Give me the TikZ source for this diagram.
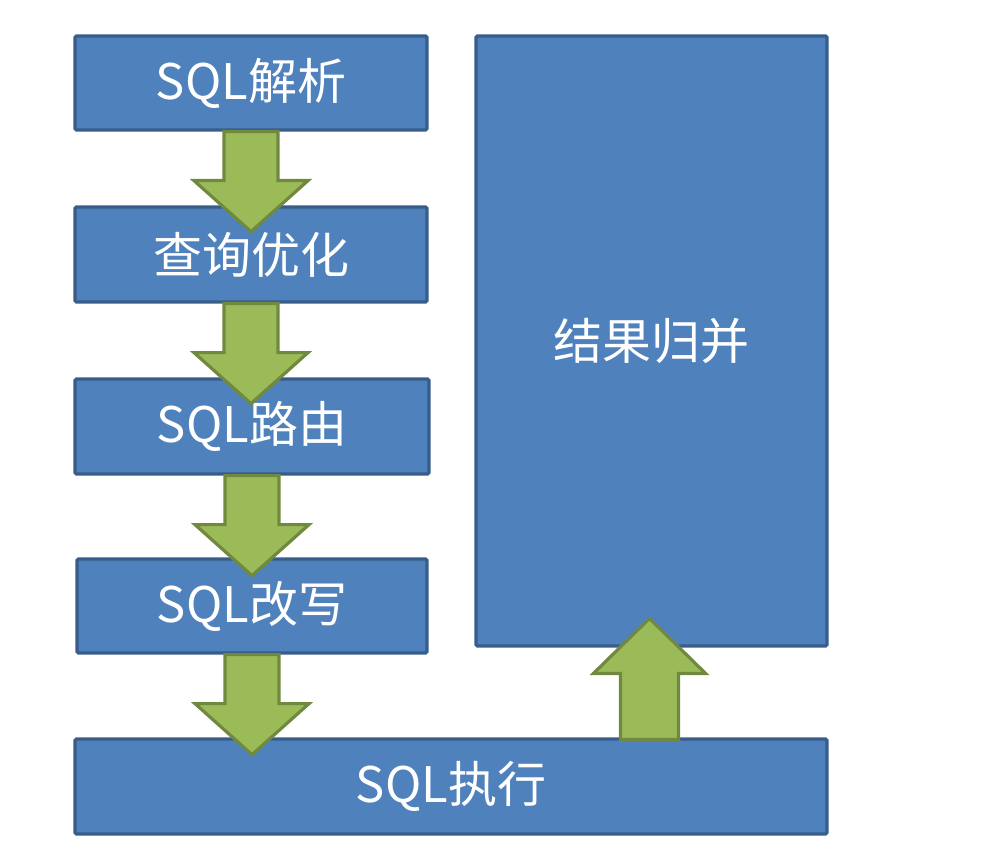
\documentclass[tikz,border=0pt]{standalone}
\usepackage{fontspec}
\setmainfont{Noto Sans CJK SC}
\definecolor{boxblue}{HTML}{4F81BD}
\definecolor{boxedge}{HTML}{385D8A}
\definecolor{arrowgreen}{HTML}{9BBB59}
\definecolor{arrowedge}{HTML}{71893F}
\begin{document}
\begin{tikzpicture}[x=1pt, y=-1pt,
    stage/.style={draw=boxedge, fill=boxblue, line width=3.2pt, rounded corners=1.5pt,
      text=white, font=\fontsize{49}{53}\selectfont, inner sep=0pt},
    flow/.style={draw=arrowedge, fill=arrowgreen, line width=3.2pt}]
  \useasboundingbox (0,0) rectangle (998,866);

  \node[stage, minimum width=352, minimum height=94] (parse) at (251,83) {SQL解析};
  \node[stage, minimum width=352, minimum height=95] (optimize) at (251,254.5) {查询优化};
  \node[stage, minimum width=354, minimum height=95] (route) at (252,426.5) {SQL路由};
  \node[stage, minimum width=350, minimum height=94] (rewrite) at (252,606) {SQL改写};
  \node[stage, minimum width=752, minimum height=95] (execute) at (451,786.5) {SQL执行};
  \node[stage, minimum width=351, minimum height=610] (merge) at (651.5,341) {结果归并};

  % down arrows
  \foreach \a/\b in {parse/optimize, optimize/route, route/rewrite, rewrite/execute}
    \draw[flow] (\a.south) ++(-27,0) -- ++(0,49) -- ++(-30,0) -- ++(57,51)
      -- ++(57,-51) -- ++(-30,0) -- ++(0,-49) -- cycle;

  % up arrow
  \draw[flow] (merge.south |- execute.north) ++(-31,2) -- ++(0,-66) -- ++(-27,0)
    -- ++(56,-55) -- ++(56,55) -- ++(-27,0) -- ++(0,66) -- cycle;
\end{tikzpicture}
\end{document}
